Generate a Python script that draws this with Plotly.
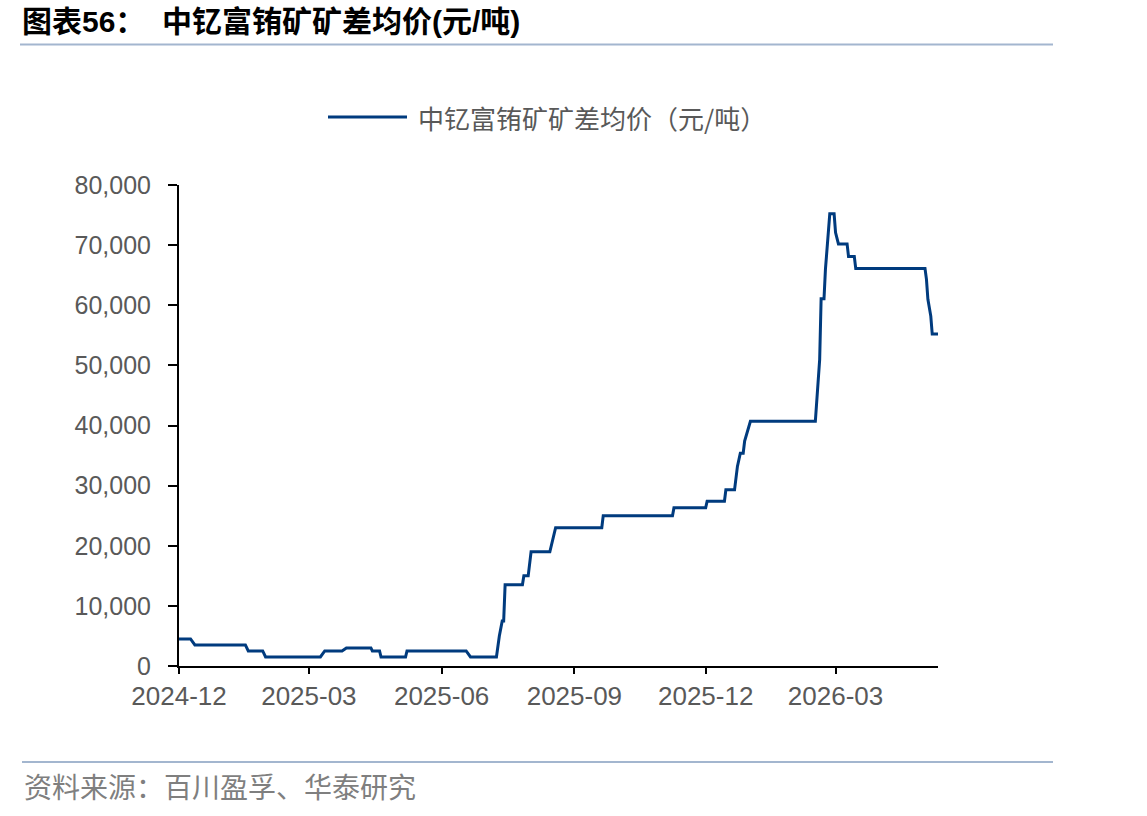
import plotly.graph_objects as go

# ---------------- data ----------------
dates = [
    "2024-12-01", "2024-12-09", "2024-12-12", "2025-01-16", "2025-01-18",
    "2025-01-28", "2025-01-30", "2025-03-09", "2025-03-12", "2025-03-24",
    "2025-03-27", "2025-04-13", "2025-04-14", "2025-04-19", "2025-04-20",
    "2025-05-07", "2025-05-08", "2025-06-18", "2025-06-21", "2025-07-09",
    "2025-07-11", "2025-07-13", "2025-07-14", "2025-07-15", "2025-07-27",
    "2025-07-28", "2025-07-31", "2025-08-02", "2025-08-15", "2025-08-16",
    "2025-08-19", "2025-09-20", "2025-09-21", "2025-11-08", "2025-11-09",
    "2025-12-01", "2025-12-02", "2025-12-14", "2025-12-15", "2025-12-21",
    "2025-12-22", "2025-12-23", "2025-12-25", "2025-12-27", "2025-12-28",
    "2026-01-01", "2026-02-15", "2026-02-16", "2026-02-17", "2026-02-18",
    "2026-02-19", "2026-02-21", "2026-02-22", "2026-02-24", "2026-02-25",
    "2026-02-28", "2026-03-01", "2026-03-03", "2026-03-09", "2026-03-10",
    "2026-03-14", "2026-03-15", "2026-05-02", "2026-05-03", "2026-05-04",
    "2026-05-06", "2026-05-07", "2026-05-11",
]
prices = [
    4500, 4500, 3500, 3500, 2500,
    2500, 1500, 1500, 2500, 2500,
    3000, 3000, 2500, 2500, 1500,
    1500, 2500, 2500, 1500, 1500,
    5000, 7500, 7500, 13500, 13500,
    15000, 15000, 19000, 19000, 20000,
    23000, 23000, 25000, 25000, 26300,
    26300, 27400, 27400, 29300, 29300,
    31300, 33200, 35400, 35400, 37400,
    40700, 40700, 44300, 47500, 51000,
    61100, 61100, 66000, 72900, 75200,
    75200, 72100, 70200, 70200, 68100,
    68100, 66100, 66100, 64300, 61000,
    58200, 55200, 55200,
]
series_name = "中钇富铕矿矿差均价（元/吨）"
x_tick_vals = ["2024-12-01", "2025-03-01", "2025-06-01", "2025-09-01", "2025-12-01", "2026-03-01"]
x_tick_text = ["2024-12", "2025-03", "2025-06", "2025-09", "2025-12", "2026-03"]
y_tick_vals = [0, 10000, 20000, 30000, 40000, 50000, 60000, 70000, 80000]
y_tick_text = ["0", "10,000", "20,000", "30,000", "40,000", "50,000", "60,000", "70,000", "80,000"]

title_text = "<b>图表56：  中钇富铕矿矿差均价(元/吨)</b>"
source_text = "资料来源：百川盈孚、华泰研究"

# ---------------- layout helpers ----------------
W, H = 1147, 816
L, R, T, B = 179, 938, 185, 666
LINE_COLOR = "#003B7E"


def px(x):
    return (x - L) / (R - L)


def py(y):
    return (B - y) / (B - T)


fig = go.Figure()
fig.add_trace(go.Scatter(
    x=dates, y=prices, mode="lines", name=series_name,
    line=dict(color=LINE_COLOR, width=3), showlegend=False,
))

fig.update_layout(
    width=W, height=H,
    margin=dict(l=L, r=W - R, t=T, b=H - B, pad=0),
    paper_bgcolor="white", plot_bgcolor="white",
    font=dict(family="Liberation Sans, Arial", color="#595959", size=25),
    xaxis=dict(
        type="date", range=["2024-12-01", "2026-05-11"],
        tickvals=x_tick_vals, ticktext=x_tick_text,
        showgrid=False, zeroline=False,
        showline=True, linecolor="black", linewidth=2,
        ticks="outside", ticklen=6, tickcolor="black", tickwidth=2,
        tickfont=dict(size=26, color="#595959"),
    ),
    yaxis=dict(
        range=[0, 80000], tickvals=y_tick_vals, ticktext=y_tick_text,
        showgrid=False, zeroline=False,
        showline=True, linecolor="black", linewidth=2,
        ticks="outside", ticklen=9, tickcolor="black", tickwidth=2,
        tickfont=dict(size=25, color="#595959"),
        ticklabelstandoff=12,
    ),
)

# manual legend
fig.add_shape(type="line", xref="paper", yref="paper",
              x0=px(328), x1=px(407), y0=py(117), y1=py(117),
              line=dict(color=LINE_COLOR, width=3))
fig.add_annotation(xref="paper", yref="paper", x=px(416), y=py(117),
                   text=series_name, showarrow=False, xanchor="left", yanchor="middle",
                   font=dict(family="Noto Sans CJK SC", size=26, color="#595959"))

# title
fig.add_annotation(xref="paper", yref="paper", x=px(20), y=py(22),
                   text=title_text, showarrow=False, xanchor="left", yanchor="middle",
                   font=dict(family="Liberation Sans, Noto Sans CJK SC", size=30, color="black"))
# separators
fig.add_shape(type="line", xref="paper", yref="paper",
              x0=px(20), x1=px(1053), y0=py(44.5), y1=py(44.5),
              line=dict(color="#A3B6CF", width=2))
fig.add_shape(type="line", xref="paper", yref="paper",
              x0=px(22), x1=px(1053), y0=py(762), y1=py(762),
              line=dict(color="#A3B6CF", width=2))
# source
fig.add_annotation(xref="paper", yref="paper", x=px(22), y=py(786),
                   text=source_text, showarrow=False, xanchor="left", yanchor="middle",
                   font=dict(family="Noto Sans CJK SC", size=28, color="#7F7F7F"))

fig.write_html("out.html")
